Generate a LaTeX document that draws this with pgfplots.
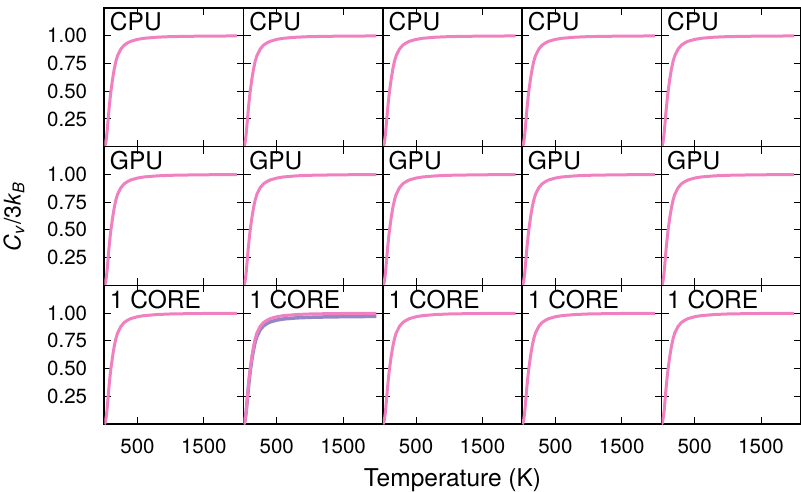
\documentclass[border=0pt]{standalone}
\usepackage{fontspec}
\setmainfont{TeX Gyre Heros}
\usepackage{pgfplots}
\pgfplotsset{compat=1.18}
\usepgfplotslibrary{groupplots}
\usepackage{pgfplotstable}

\pgfplotstableread{
T cv
0 0
10 0.008
20 0.03
30 0.07
40 0.12
50 0.19
60 0.26
70 0.33
80 0.39
90 0.45
100 0.50
125 0.61
150 0.70
175 0.77
200 0.82
250 0.88
300 0.915
350 0.935
400 0.95
500 0.967
600 0.977
800 0.987
1000 0.992
1300 0.995
1600 0.997
2000 0.998
}\pinkdata

\pgfplotstableread{
T cv
0 0
10 0.008
20 0.03
30 0.068
40 0.115
50 0.18
60 0.245
70 0.31
80 0.37
90 0.425
100 0.475
125 0.585
150 0.67
175 0.74
200 0.79
250 0.85
300 0.885
350 0.905
400 0.92
500 0.937
600 0.947
800 0.957
1000 0.962
1300 0.966
1600 0.968
2000 0.970
}\purpledata

\definecolor{cvpink}{RGB}{240,128,192}
\definecolor{cvpurple}{RGB}{150,134,200}

\newcommand{\lab}{\fontsize{24.5}{28}\selectfont}
\newcommand{\tl}{\fontsize{20.5}{24}\selectfont}
\newcommand{\panellabel}[1]{\node[anchor=base west, inner sep=0pt, xshift=5.5pt, yshift=-23pt, font=\lab] at (rel axis cs:0,1) {#1};}

\begin{document}
\begin{tikzpicture}
\begin{groupplot}[
  group style={group size=5 by 3, horizontal sep=0pt, vertical sep=0pt,
    xticklabels at=edge bottom, yticklabels at=edge left, group name=G},
  scale only axis, width=139.3pt, height=138.67pt,
  xmin=0, xmax=2100, ymin=0, ymax=1.25,
  xtick={500,1500}, xticklabels={500,1500},
  ytick={0.25,0.5,0.75,1}, yticklabels={0.25,0.50,0.75,1.00},
  /pgf/number format/assume math mode=true,
  tick align=inside, major tick length=7pt,
  axis line style={line width=1.6pt},
  tick style={line width=0.9pt, black},
  tick label style={font=\tl, inner sep=0pt},
  xticklabel style={yshift=-15pt},
  yticklabel style={xshift=-17pt},
]
% row 1
\nextgroupplot
\addplot[cvpink, line width=3pt] table[x=T,y=cv] {\pinkdata};
\panellabel{CPU}
\nextgroupplot
\addplot[cvpink, line width=3pt] table[x=T,y=cv] {\pinkdata};
\panellabel{CPU}
\nextgroupplot
\addplot[cvpink, line width=3pt] table[x=T,y=cv] {\pinkdata};
\panellabel{CPU}
\nextgroupplot
\addplot[cvpink, line width=3pt] table[x=T,y=cv] {\pinkdata};
\panellabel{CPU}
\nextgroupplot
\addplot[cvpink, line width=3pt] table[x=T,y=cv] {\pinkdata};
\panellabel{CPU}
% row 2
\nextgroupplot
\addplot[cvpink, line width=3pt] table[x=T,y=cv] {\pinkdata};
\panellabel{GPU}
\nextgroupplot
\addplot[cvpink, line width=3pt] table[x=T,y=cv] {\pinkdata};
\panellabel{GPU}
\nextgroupplot
\addplot[cvpink, line width=3pt] table[x=T,y=cv] {\pinkdata};
\panellabel{GPU}
\nextgroupplot
\addplot[cvpink, line width=3pt] table[x=T,y=cv] {\pinkdata};
\panellabel{GPU}
\nextgroupplot
\addplot[cvpink, line width=3pt] table[x=T,y=cv] {\pinkdata};
\panellabel{GPU}
% row 3
\nextgroupplot
\addplot[cvpink, line width=3pt] table[x=T,y=cv] {\pinkdata};
\panellabel{1 CORE}
\nextgroupplot
\addplot[cvpurple, line width=3.5pt] table[x=T,y=cv] {\purpledata};
\addplot[cvpink, line width=3pt] table[x=T,y=cv] {\pinkdata};
\panellabel{1 CORE}
\nextgroupplot
\addplot[cvpink, line width=3pt] table[x=T,y=cv] {\pinkdata};
\panellabel{1 CORE}
\nextgroupplot
\addplot[cvpink, line width=3pt] table[x=T,y=cv] {\pinkdata};
\panellabel{1 CORE}
\nextgroupplot
\addplot[cvpink, line width=3pt] table[x=T,y=cv] {\pinkdata};
\panellabel{1 CORE}
\end{groupplot}
\node[anchor=base, inner sep=0pt, font=\lab] at ([shift={(348.25pt,-478.7pt)}]G c1r1.north west) {Temperature (K)};
\node[anchor=base, inner sep=0pt, rotate=90, font=\fontsize{23}{26}\selectfont] at ([shift={(-83.6pt,-208.7pt)}]G c1r1.north west) {\textit{C}\textsubscript{\textit{v}}\kern1pt/3\textit{k}\textsubscript{\textit{B}}};
\pgfresetboundingbox
\path[use as bounding box] ([shift={(-104.3pt,-484pt)}]G c1r1.north west) rectangle ([shift={(696.7pt,8pt)}]G c1r1.north west);
\end{tikzpicture}
\end{document}
